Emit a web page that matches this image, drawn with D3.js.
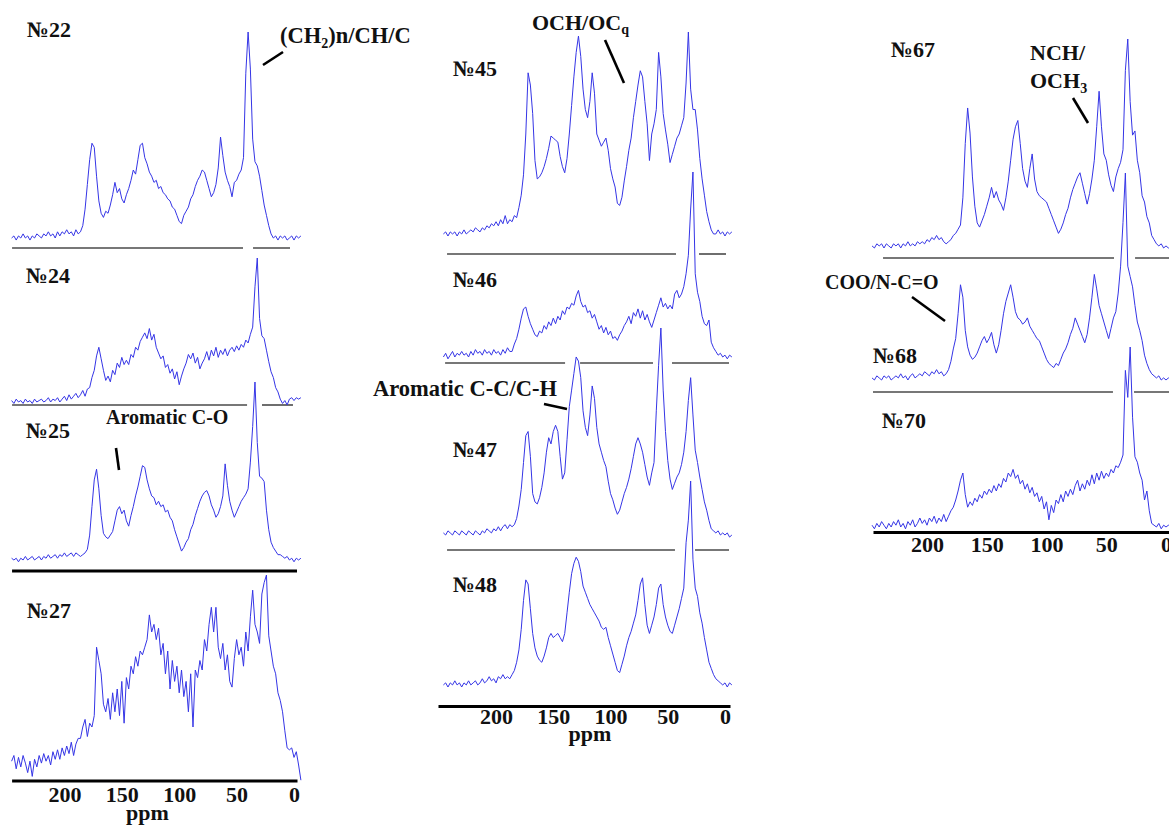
<!DOCTYPE html>
<html>
<head>
<meta charset="utf-8">
<script src="https://cdn.jsdelivr.net/npm/d3@7"></script>
<style>
  body { margin: 0; background: #fff; }
  svg text { font-family: "Liberation Serif", "DejaVu Serif", serif; font-weight: bold; fill: #111; }
</style>
</head>
<body>
<svg id="chart" width="1169" height="826"></svg>
<script>
// ---- Data: chemical shift grid (ppm) and spectra intensities (relative, 0-100) ----
const ppmStart = 246;   // first sample (ppm)
const ppmStep = 2;      // spacing between samples (ppm)
const tickValues = [200, 150, 100, 50, 0];
const axisTitle = "ppm";

const s22 = [
  0,1,-1,1,0,2,0,1,-1,1,
  0,2,1,0,2,1,3,1,2,0,
  3,1,3,2,4,2,3,1,4,2,
  3,6,14,26,38,46,44,30,18,12,
  10,13,12,16,21,27,22,24,19,17,
  21,24,28,33,31,38,45,46,39,36,
  32,30,27,28,24,25,22,21,19,18,
  15,14,11,8,7,11,13,15,19,21,
  25,28,30,33,32,28,24,20,22,26,
  34,49,40,32,28,25,20,27,28,31,
  33,39,80,100,82,48,37,35,30,23,
  16,11,6,2,0,1,-1,1,0,1,
  -1,0,1,-1,1,0,1];
const s24 = [
  1,-1,2,0,1,-1,2,0,1,-1,
  2,0,1,2,0,1,3,0,2,1,
  3,0,2,4,1,5,2,4,6,3,
  5,8,4,9,10,17,22,32,38,30,
  22,15,18,14,22,19,27,24,31,26,
  29,26,33,31,38,36,42,45,48,44,
  51,43,47,38,34,30,32,24,26,20,
  23,16,21,12,18,23,27,33,30,34,
  27,31,23,27,30,35,29,36,32,38,
  31,36,33,37,32,36,38,35,39,36,
  40,38,43,41,47,52,80,100,58,46,
  44,36,28,21,17,10,7,2,-1,1,
  -2,2,3,1,3,2,3];
const s25 = [
  1,0,1,-1,1,0,2,0,1,2,
  0,1,2,0,2,1,3,1,2,3,
  1,3,2,4,2,3,4,2,4,3,
  2,3,4,6,14,30,45,51,40,25,
  15,13,12,14,16,22,28,30,26,28,
  22,19,25,30,36,41,47,53,52,45,
  40,36,35,31,33,30,31,27,28,24,
  22,17,13,9,5,7,10,12,17,20,
  25,29,33,36,38,39,36,31,28,24,
  26,30,36,54,42,33,28,24,27,30,
  33,35,37,40,55,75,100,66,47,46,
  44,28,17,10,7,5,3,3,2,1,
  2,0,1,-1,1,0,1];
const s27 = [
  2,5,-2,4,-1,5,1,-4,2,-6,
  3,-1,5,1,6,2,5,0,7,3,
  8,3,9,5,10,6,12,5,11,14,
  14,20,24,15,22,20,26,62,55,48,
  32,28,35,24,38,28,40,26,44,22,
  46,40,52,48,57,52,60,58,62,66,
  79,70,74,66,72,58,64,48,60,40,
  55,44,52,38,50,36,44,28,48,20,
  50,46,55,50,66,60,74,83,70,83,
  62,56,64,50,58,44,41,56,66,58,
  62,52,70,60,78,92,74,70,64,90,
  96,100,68,60,52,48,38,34,28,18,
  9,8,9,4,7,0,-8];
const s45 = [
  1,2,0,2,1,2,0,2,1,3,
  1,2,3,2,4,3,2,4,3,5,
  4,6,5,7,5,8,6,10,6,8,
  7,10,9,14,20,30,50,80,74,60,
  37,28,29,31,34,38,43,49,48,47,
  46,39,34,31,38,50,64,78,90,98,
  88,72,62,58,66,80,70,50,47,44,
  46,48,42,33,28,24,16,15,19,27,
  34,42,48,58,66,74,81,78,66,55,
  37,50,55,62,90,78,60,52,45,36,
  40,44,48,50,54,58,75,100,72,62,
  62,52,38,28,20,12,7,3,1,1,
  3,1,2,0,2,1,2];
const s46 = [
  0,2,-1,1,3,0,2,1,3,1,
  2,0,3,1,4,2,3,1,4,2,
  3,1,4,2,3,1,4,2,5,3,
  3,7,10,15,21,26,27,22,18,15,
  12,11,14,13,17,15,19,17,21,18,
  22,20,25,23,27,26,29,28,33,36,
  30,27,28,24,25,21,23,19,15,17,
  13,16,12,14,10,11,9,12,14,17,
  19,22,18,24,22,26,21,25,20,23,
  19,16,20,24,28,32,27,29,26,28,
  26,34,36,32,34,38,45,55,80,100,
  45,35,30,22,18,17,20,8,5,3,
  1,2,0,1,-1,1,0];
const s47 = [
  1,0,2,1,0,2,1,0,2,1,
  0,2,1,0,2,1,0,2,1,3,
  2,1,3,2,4,2,4,5,3,5,
  4,5,8,14,22,35,48,50,38,20,
  16,15,18,23,30,40,47,44,50,53,
  50,38,27,30,46,62,70,78,86,84,
  76,60,52,48,58,72,66,52,44,40,
  36,33,26,20,17,13,10,12,16,20,
  23,27,32,38,44,47,44,40,34,28,
  24,30,35,60,82,100,70,50,36,27,
  22,25,28,30,34,40,50,65,76,58,
  41,35,28,22,16,12,7,3,2,1,
  2,0,1,0,1,-1,0];
const s48 = [
  1,2,0,2,1,3,1,2,0,2,
  1,3,1,2,3,1,2,4,2,3,
  5,3,4,2,5,4,6,4,5,4,
  6,8,12,18,28,42,52,50,38,26,
  19,15,13,12,15,19,24,26,24,25,
  26,24,22,26,36,46,55,60,63,61,
  56,49,46,43,40,38,36,34,32,29,
  28,29,24,20,16,12,8,7,11,15,
  20,24,27,31,35,42,50,53,40,30,
  26,30,34,40,48,50,40,34,30,27,
  26,30,34,38,43,48,70,81,100,62,
  48,44,36,31,24,18,12,9,6,4,
  3,2,1,2,0,2,1];
const s67 = [
  1,0,2,1,2,0,2,1,0,2,
  1,2,0,2,1,3,1,2,1,3,
  2,3,2,4,3,5,4,6,4,5,
  3,2,3,4,6,7,9,11,24,50,
  67,55,34,20,12,10,13,16,20,24,
  29,24,27,23,21,18,24,32,42,52,
  58,61,50,38,32,29,38,45,33,27,
  25,24,23,22,19,16,13,10,7,9,
  12,16,19,24,28,31,34,36,31,26,
  21,26,33,42,58,75,58,45,42,35,
  30,27,34,38,41,47,85,100,70,54,
  56,42,36,25,22,15,12,6,4,2,
  1,2,0,1,0,1,0];
const s68 = [
  1,0,2,1,0,2,1,2,0,1,
  2,1,3,1,2,0,2,3,1,2,
  3,2,4,3,2,4,3,5,3,4,
  2,3,5,9,15,20,32,46,40,24,
  16,12,10,11,13,16,19,21,18,20,
  23,17,13,17,24,32,38,42,46,40,
  33,30,29,27,28,30,26,24,22,20,
  19,16,13,10,8,7,6,8,7,10,
  13,15,18,22,25,30,27,24,21,18,
  22,30,40,51,44,36,32,28,24,20,
  25,30,33,42,55,76,100,55,50,45,
  36,28,24,19,12,8,5,3,2,1,
  2,0,1,0,1,0,1];
const s70 = [
  1,-1,2,0,3,1,-1,2,0,3,
  1,4,0,2,-1,3,1,4,0,2,
  5,2,4,1,5,3,6,2,5,3,
  7,3,6,9,11,15,20,26,30,18,
  11,14,12,16,14,18,16,20,18,21,
  19,23,20,24,22,27,25,30,28,32,
  27,29,24,26,21,24,19,22,17,19,
  14,17,10,14,4,12,8,15,13,18,
  14,20,17,21,18,23,26,20,24,21,
  26,23,29,24,30,26,31,27,30,28,
  32,30,34,33,36,40,87,72,100,61,
  39,36,30,26,15,20,9,2,1,0,
  2,-1,1,0,1,0,1];

// ---- Layout ----
const svg = d3.select("#chart");
const lineColor = "#3535e6";

const columns = [
  { x: d3.scaleLinear().domain([246, -2.6]).range([11.6, 297]), axisY: 780.5, labelOff: 21.5, title: [147.5, 820] },
  { x: d3.scaleLinear().domain([250.7, -4.37]).range([438, 730]), axisY: 706, labelOff: 18, title: [590, 741] },
  { x: d3.scaleLinear().domain([245.2, -2.5]).range([873, 1169]), axisY: 532, labelOff: 20, title: null }
];

const panels = [
  { col: 0, data: s22, label: "№22", y0: 238, y1: 32,  lab: [27, 37],   sep: { y: 248, segs: [[245.6, 44.4], [35.7, 3.5]] } },
  { col: 0, data: s24, label: "№24", y0: 402, y1: 258, lab: [26, 283],  sep: { y: 405, segs: [[245.6, 40.9], [27.9, 0.9]] } },
  { col: 0, data: s25, label: "№25", y0: 560, y1: 382, lab: [26, 438],  sep: { y: 571, segs: [[245.6, -2.6]], thick: true } },
  { col: 0, data: s27, label: "№27", y0: 765, y1: 575, lab: [27, 618],  sep: null },
  { col: 1, data: s45, label: "№45", y0: 236, y1: 32,  lab: [453, 76],  sep: { y: 254, segs: [[242.8, 42.8], [22.7, -0.9]] } },
  { col: 1, data: s46, label: "№46", y0: 357, y1: 172, lab: [453, 287], sep: { y: 363, segs: [[244.5, 139.7], [126.6, 62.9], [46.3, -3.5]] } },
  { col: 1, data: s47, label: "№47", y0: 535, y1: 328, lab: [453, 457], sep: { y: 550, segs: [[242.8, 43.7], [26.2, -3.5]] } },
  { col: 1, data: s48, label: "№48", y0: 687, y1: 481, lab: [453, 592], sep: null },
  { col: 2, data: s67, label: "№67", y0: 248, y1: 39,  lab: [891, 57],  sep: { y: 258, segs: [[236.8, 43.5], [25.9, -2.5]] } },
  { col: 2, data: s68, label: "№68", y0: 380, y1: 173, lab: [873, 363], sep: { y: 392, segs: [[245.2, 44.4], [26.8, -2.5]] } },
  { col: 2, data: s70, label: "№70", y0: 527, y1: 347, lab: [882, 428], sep: null }
];

// separators
panels.forEach(p => {
  if (!p.sep) return;
  const x = columns[p.col].x;
  p.sep.segs.forEach(s => {
    svg.append("line")
      .attr("x1", x(s[0])).attr("x2", x(s[1]))
      .attr("y1", p.sep.y).attr("y2", p.sep.y)
      .attr("stroke", p.sep.thick ? "#000" : "#4a4a4a")
      .attr("stroke-width", p.sep.thick ? 3 : 1.6);
  });
});

// spectra
panels.forEach(p => {
  const x = columns[p.col].x;
  const y = d3.scaleLinear().domain([0, 100]).range([p.y0, p.y1]);
  const line = d3.line()
    .x((d, i) => x(ppmStart - i * ppmStep))
    .y(d => y(d));
  svg.append("path")
    .datum(p.data)
    .attr("d", line)
    .attr("fill", "none")
    .attr("stroke", lineColor)
    .attr("stroke-width", 1)
    .attr("stroke-linejoin", "round");
  svg.append("text")
    .attr("x", p.lab[0]).attr("y", p.lab[1])
    .attr("font-size", 22)
    .text(p.label);
});

// axes
columns.forEach(c => {
  const g = svg.append("g").attr("transform", `translate(0,${c.axisY})`)
    .call(d3.axisBottom(c.x).tickValues(tickValues).tickSize(0).tickSizeOuter(0));
  g.select(".domain").attr("stroke", "#000").attr("stroke-width", 3);
  g.selectAll("text")
    .attr("y", c.labelOff).attr("dy", null)
    .attr("font-size", 22)
    .style("font-family", '"Liberation Serif", "DejaVu Serif", serif')
    .style("font-weight", "bold")
    .attr("fill", "#111");
  if (c.title) {
    svg.append("text").attr("x", c.title[0]).attr("y", c.title[1])
      .attr("text-anchor", "middle").attr("font-size", 22).text(axisTitle);
  }
});

// annotations
function annot(parts, x, y, size) {
  const t = svg.append("text").attr("x", x).attr("y", y).attr("font-size", size);
  parts.forEach(pt => {
    if (typeof pt === "string") t.append("tspan").text(pt);
    else t.append("tspan").attr("dy", pt.dy).attr("font-size", pt.size || 14).text(pt.t);
  });
}
function pointer(x1, y1, x2, y2) {
  svg.append("line").attr("x1", x1).attr("y1", y1).attr("x2", x2).attr("y2", y2)
    .attr("stroke", "#000").attr("stroke-width", 2.6);
}
annot(["(CH", { t: "2", dy: 5 }, { t: ")n/CH/C", dy: -5, size: 22.5 }], 280, 43, 22.5);
pointer(263, 65, 283, 52);
annot(["OCH/OC", { t: "q", dy: 4 }], 532, 30, 22);
pointer(605, 40, 624, 83);
annot(["Aromatic C-O"], 106, 424, 20);
pointer(116, 448, 119, 470);
annot(["Aromatic C-C/C-H"], 373, 396, 22.5);
pointer(544, 404, 567, 409);
annot(["NCH/"], 1030, 60, 22);
annot(["OCH", { t: "3", dy: 5 }], 1030, 88, 22);
pointer(1073, 98, 1088, 123);
annot(["COO/N-C=O"], 825, 289, 20);
pointer(912, 297, 945, 321);
</script>
</body>
</html>
